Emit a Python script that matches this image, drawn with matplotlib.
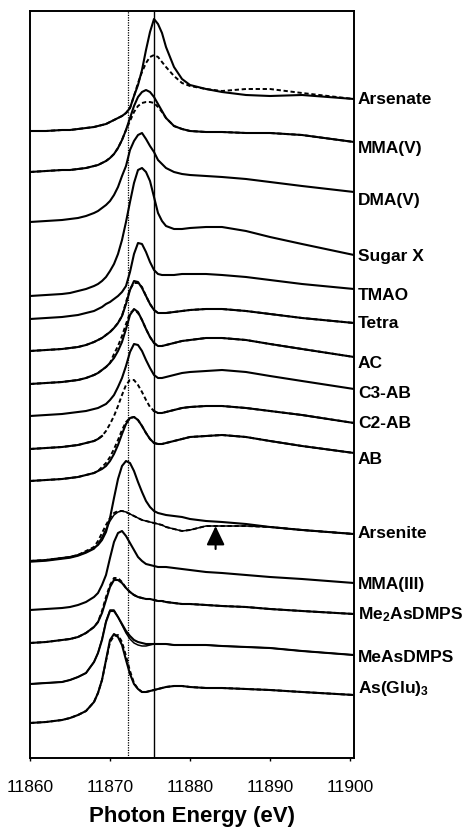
import numpy as np
import matplotlib.pyplot as plt

plt.rcParams['font.family'] = ['Liberation Sans', 'DejaVu Sans']
plt.rcParams['mathtext.fontset'] = 'custom'
plt.rcParams['mathtext.rm'] = 'Liberation Sans:bold'
plt.rcParams['mathtext.it'] = 'Liberation Sans:bold'
plt.rcParams['mathtext.bf'] = 'Liberation Sans:bold'

# photon energy grid (eV)
energy = [11860, 11862, 11864, 11865, 11866, 11867, 11868, 11868.5, 11869, 11869.5,
          11870, 11870.5, 11871, 11871.5, 11872, 11872.5, 11873, 11873.5, 11874, 11874.5,
          11875, 11875.5, 11876, 11876.5, 11877, 11878, 11879, 11880, 11882, 11884,
          11887, 11890, 11894, 11900.5]

# stacked XANES spectra, arbitrary units above each trace's own pre-edge
arsenate     = [0, 0, 1, 1, 2, 3, 4, 5, 6, 7, 9, 11, 13, 15, 18, 23, 35, 46, 61, 81, 99, 112, 107, 98, 84, 64, 52, 46, 42, 39, 36, 35, 36, 32]
arsenate_fit = [0, 0, 1, 1, 2, 3, 4, 5, 6, 7, 9, 11, 13, 15, 18, 23, 35, 48, 59, 68, 74, 76, 74, 69, 64, 55, 48, 45, 42, 40, 42, 42, 38, 32]
mma5         = [0, 1, 2, 2, 3, 4, 6, 7, 9, 11, 14, 18, 24, 32, 42, 54, 66, 75, 80, 82, 80, 75, 68, 61, 54, 46, 43, 41, 40, 40, 39, 39, 37, 30]
mma5_fit     = [0, 1, 2, 2, 3, 4, 6, 7, 9, 11, 14, 18, 24, 32, 42, 51, 60, 66, 69, 70, 70, 69, 65, 60, 54, 46, 43, 41, 40, 40, 39, 39, 37, 30]
dma5         = [0, 1, 2, 3, 4, 6, 9, 11, 14, 17, 21, 27, 35, 46, 56, 72, 81, 87, 89, 83, 76, 70, 62, 58, 54, 50, 48, 47, 46, 45, 43, 40, 36, 30]
sugar_x      = [0, 1, 2, 3, 5, 7, 10, 12, 15, 19, 25, 32, 42, 56, 74, 94, 113, 126, 128, 124, 115, 99, 83, 75, 70, 67, 67, 68, 69, 69, 65, 59, 52, 41]
tmao         = [0, 1, 2, 3, 4, 6, 8, 10, 12, 15, 17, 20, 23, 27, 33, 47, 65, 76, 75, 67, 57, 49, 45, 44, 44, 44, 45, 45, 45, 44, 42, 39, 35, 30]
tetra        = [0, 1, 2, 3, 4, 6, 9, 11, 13, 16, 19, 23, 28, 35, 47, 61, 70, 69, 63, 55, 47, 41, 38, 38, 38, 39, 40, 41, 42, 42, 40, 37, 33, 28]
tetra_fit    = [0, 1, 2, 3, 4, 6, 9, 11, 13, 16, 19, 23, 28, 35, 49, 62, 68, 68, 64, 55, 47, 41, 38, 38, 38, 39, 40, 41, 42, 42, 40, 37, 33, 28]
ac           = [0, 1, 2, 3, 4, 6, 9, 11, 14, 17, 21, 26, 33, 42, 55, 69, 75, 72, 64, 55, 47, 41, 38, 38, 39, 41, 43, 44, 46, 46, 44, 40, 35, 27]
ac_fit       = [0, 1, 2, 3, 4, 6, 9, 11, 14, 17, 21, 30, 38, 48, 60, 71, 74, 71, 64, 55, 47, 41, 38, 38, 39, 41, 43, 44, 46, 46, 44, 40, 35, 27]
c3ab         = [0, 1, 2, 3, 4, 5, 7, 8, 10, 12, 16, 21, 29, 38, 50, 64, 72, 71, 65, 56, 48, 41, 38, 38, 39, 41, 43, 44, 45, 46, 44, 40, 35, 27]
c2ab         = [0, 1, 2, 3, 4, 6, 8, 10, 13, 18, 25, 33, 43, 54, 64, 69, 69, 64, 57, 49, 42, 38, 36, 36, 37, 39, 41, 42, 43, 43, 41, 38, 34, 26]
ab           = [0, 1, 2, 3, 4, 6, 8, 10, 12, 15, 20, 27, 36, 47, 57, 63, 64, 61, 55, 48, 42, 38, 37, 37, 38, 40, 42, 44, 45, 46, 44, 40, 35, 28]
ab_fit       = [0, 1, 2, 3, 4, 6, 8, 10, 14, 18, 24, 32, 41, 51, 59, 63, 64, 61, 55, 48, 42, 38, 37, 37, 38, 40, 42, 44, 45, 46, 44, 40, 35, 28]
arsenite     = [0, 1, 3, 4, 6, 9, 13, 16, 21, 29, 43, 63, 82, 95, 100, 98, 90, 79, 69, 60, 54, 50, 48, 47, 46, 45, 44, 42, 40, 39, 37, 34, 31, 27]
arsenite_2   = [-1, 0, 2, 3, 5, 8, 12, 17, 24, 32, 40, 46, 49, 50, 49, 47, 45, 43, 41, 40, 39, 38, 37, 36, 34, 32, 30, 31, 35, 35, 35, 34, 31, 27]
arsenite_fit = [0, 1, 3, 4, 6, 10, 14, 20, 28, 36, 43, 48, 50, 50, 49, 47, 45, 43, 41, 40, 39, 38, 37, 36, 34, 32, 30, 31, 35, 35, 35, 34, 31, 27]
mma3         = [0, 1, 2, 3, 5, 8, 13, 17, 25, 35, 52, 68, 77, 79, 74, 67, 60, 53, 49, 46, 45, 44, 43, 43, 43, 42, 41, 40, 38, 37, 35, 33, 31, 27]
me2asdmps    = [0, 1, 3, 4, 6, 10, 16, 21, 30, 43, 56, 63, 63, 60, 55, 51, 48, 46, 45, 44, 44, 43, 42, 42, 41, 40, 39, 39, 38, 37, 36, 34, 32, 29]
me2asdmps_fit = [0, 1, 3, 4, 6, 10, 16, 21, 32, 46, 58, 65, 65, 61, 55, 51, 48, 46, 45, 44, 44, 43, 42, 42, 41, 40, 39, 39, 38, 37, 36, 34, 32, 29]
measdmps     = [0, 1, 2, 4, 7, 11, 22, 31, 44, 62, 73, 73, 67, 60, 53, 48, 44, 42, 41, 40, 40, 40, 40, 40, 40, 39, 39, 39, 39, 38, 37, 36, 33, 29]
measdmps_2   = [0, 1, 2, 4, 7, 11, 22, 31, 45, 63, 74, 74, 67, 59, 51, 45, 41, 39, 38, 38, 39, 40, 40, 40, 40, 39, 39, 39, 39, 38, 37, 36, 33, 29]
asglu3       = [0, 1, 3, 5, 8, 12, 21, 30, 43, 63, 83, 89, 86, 78, 63, 49, 39, 34, 31, 31, 32, 33, 34, 35, 36, 37, 37, 36, 35, 35, 34, 33, 31, 28]
asglu3_fit   = [0, 1, 3, 5, 8, 12, 21, 30, 43, 62, 81, 87, 88, 81, 67, 52, 40, 34, 31, 31, 32, 33, 34, 35, 36, 37, 37, 36, 35, 35, 34, 33, 31, 28]

names = ['Arsenate', 'MMA(V)', 'DMA(V)', 'Sugar X', 'TMAO', 'Tetra', 'AC', 'C3-AB', 'C2-AB',
         'AB', 'Arsenite', 'MMA(III)', r'Me$_{2}$AsDMPS', 'MeAsDMPS', r'As(Glu)$_{3}$']
offsets = [627, 586, 536, 462, 439, 407, 374, 342, 309, 277, 197, 148, 115, 74, 35]

# (offset index, values, style)
traces = [
    (0, arsenate, '-'), (0, arsenate_fit, '--'),
    (1, mma5, '-'), (1, mma5_fit, '--'),
    (2, dma5, '-'),
    (3, sugar_x, '-'),
    (4, tmao, '-'),
    (5, tetra, '-'), (5, tetra_fit, '--'),
    (6, ac, '-'), (6, ac_fit, '--'),
    (7, c3ab, '-'),
    (8, c2ab, 'gap'), (8, c2ab, '--'),
    (9, ab, '-'), (9, ab_fit, '--'),
    (10, arsenite, '-'), (10, arsenite_2, 'thin'), (10, arsenite_fit, '--'),
    (11, mma3, '-'),
    (12, me2asdmps, '-'), (12, me2asdmps_fit, '--'),
    (13, measdmps, '-'), (13, measdmps_2, 'thin'),
    (14, asglu3, '-'), (14, asglu3_fit, '--'),
]

# label nudges relative to the trace end (a.u.)
label_nudge = [-1, -6, -8, -1, -6, 0, -6, -5, 0, -6, 1, -1, -1, -2, 6]

E = np.array(energy)
fig = plt.figure(figsize=(4.69, 8.31), dpi=100)
ax = fig.add_axes([30/469, 73/831, 324/469, 747/831])

for idx, vals, style in traces:
    y = offsets[idx] + np.array(vals, dtype=float)
    if style == '-':
        ax.plot(E, y, color='black', lw=1.5, solid_joinstyle='round')
    elif style == 'thin':
        ax.plot(E, y, color='black', lw=1.1, solid_joinstyle='round')
    elif style == 'gap':
        y = np.where((E > 11869.2) & (E < 11875.3), np.nan, y)
        ax.plot(E, y, color='black', lw=1.5)
    else:
        ax.plot(E, y, color='black', lw=1.4, dashes=(2.2, 1.4))

for i, name in enumerate(names):
    last = [t for t in traces if t[0] == i][0][1][-1]
    ax.text(11901, offsets[i] + last + label_nudge[i], name, fontsize=12.5,
            fontweight='bold', ha='left', va='center', clip_on=False)

ax.axvline(11872.2, color='black', lw=0.9, ls=(0, (1, 1)))
ax.axvline(11875.5, color='black', lw=1.0)

ax.annotate('', xy=(11883.2, 232), xytext=(11883.2, 209),
            arrowprops=dict(arrowstyle='-|>,head_length=1.15,head_width=0.55',
                            color='black', lw=1.5, mutation_scale=10,
                            shrinkA=0, shrinkB=0))

ax.set_xlim(11860, 11900.5)
ax.set_ylim(0, 747)
ax.set_xticks([11860, 11870, 11880, 11890, 11900])
ax.set_yticks([])
ax.tick_params(axis='x', direction='out', length=2.5, width=1, labelsize=12.5, pad=13.5)
for s in ax.spines.values():
    s.set_linewidth(1.4)
ax.set_xlabel('Photon Energy (eV)', fontsize=16, fontweight='bold', labelpad=8)

fig.savefig('out.png', dpi=100)
